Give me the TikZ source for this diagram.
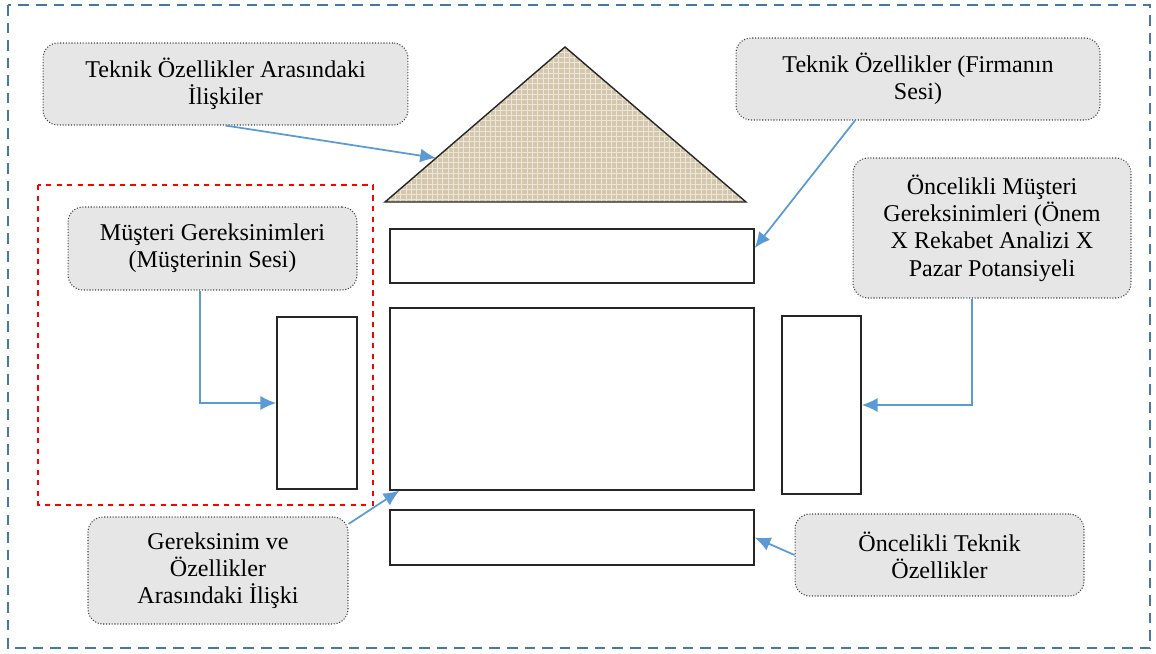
\documentclass[tikz,border=0pt]{standalone}
\usepackage{fontspec}
\setmainfont{Liberation Serif}
\usepackage{xcolor}
\usepackage{tikz}
\usetikzlibrary{arrows.meta, patterns}
\definecolor{linkblue}{RGB}{91,155,213}
\definecolor{frameblue}{RGB}{70,120,165}
\definecolor{roofbeige}{RGB}{212,199,172}
\definecolor{notegray}{RGB}{230,230,230}
\tikzstyle{note} = [rectangle, rounded corners=0.3cm, draw=black!75, densely dotted, line width=0.6pt, fill=notegray, align=center, font=\fontsize{13.7}{15.5}\selectfont]
\tikzstyle{room} = [rectangle, draw=black!85, thick, fill=white, inner sep=0pt]
\tikzstyle{arrow} = [linkblue, line width=1pt, -{Latex[length=9pt,width=8pt]}]

\begin{document}
\begin{tikzpicture}[x=0.02cm, y=-0.02cm]

\useasboundingbox (0,0) rectangle (1156,653);
\draw [frameblue, line width=1.1pt, dash pattern=on 6pt off 4pt] (8,5) rectangle (1150,648);
\draw [red, dashed, line width=0.9pt] (38,185) rectangle (373,505);

% Roof
\coordinate (roofL) at (385,202);
\coordinate (roofT) at (565,47);
\coordinate (roofR) at (746,202);
\coordinate (roofhit) at (436,158);
\fill [roofbeige] (roofL) -- (roofT) -- (roofR) -- cycle;
\fill [pattern=grid, pattern color=white!55!roofbeige] (roofL) -- (roofT) -- (roofR) -- cycle;
\draw [black!85, thick] (roofL) -- (roofT) -- (roofR) -- cycle;

% House parts
\node (ceiling) [room, minimum width=7.28cm, minimum height=1.08cm] at (572,256) {};
\node (matrix) [room, minimum width=7.28cm, minimum height=3.64cm] at (572,399) {};
\node (floor) [room, minimum width=7.28cm, minimum height=1.1cm] at (572,537.5) {};
\node (leftwall) [room, minimum width=1.6cm, minimum height=3.44cm] at (317,403) {};
\node (rightwall) [room, minimum width=1.58cm, minimum height=3.56cm] at (821.5,405) {};

% Notes
\node (corr) [note, minimum width=7.3cm, minimum height=1.64cm] at (225.5,84) {Teknik Özellikler Arasındaki\\İlişkiler};
\node (firm) [note, minimum width=7.28cm, minimum height=1.64cm] at (918,79) {Teknik Özellikler (Firmanın\\Sesi)};
\node (needs) [note, minimum width=5.78cm, minimum height=1.66cm] at (212.5,248.5) {Müşteri Gereksinimleri\\(Müşterinin Sesi)};
\node (prio) [note, minimum width=5.56cm, minimum height=2.8cm] at (992,228) {Öncelikli Müşteri\\Gereksinimleri (Önem\\X Rekabet Analizi X\\Pazar Potansiyeli};
\node (rel) [note, minimum width=5.2cm, minimum height=2.14cm] at (218,570.5) {Gereksinim ve\\Özellikler\\Arasındaki İlişki};
\node (tech) [note, minimum width=5.78cm, minimum height=1.64cm] at (939.5,555) {Öncelikli Teknik\\Özellikler};

% Arrows
\draw [arrow] (corr.south) -- (roofhit);
\draw [arrow] ([xshift=-1.26cm]firm.south) -- ([yshift=0.16cm]ceiling.east);
\draw [arrow] ([xshift=-0.25cm]needs.south) |- (leftwall.west);
\draw [arrow] ([xshift=-0.4cm]prio.south) |- (rightwall.east);
\draw [arrow] ([yshift=-0.15cm]rel.north east) -- ([xshift=0.2cm]matrix.south west);
\draw [arrow] (tech.west) -- (floor.east);

\end{tikzpicture}
\end{document}
